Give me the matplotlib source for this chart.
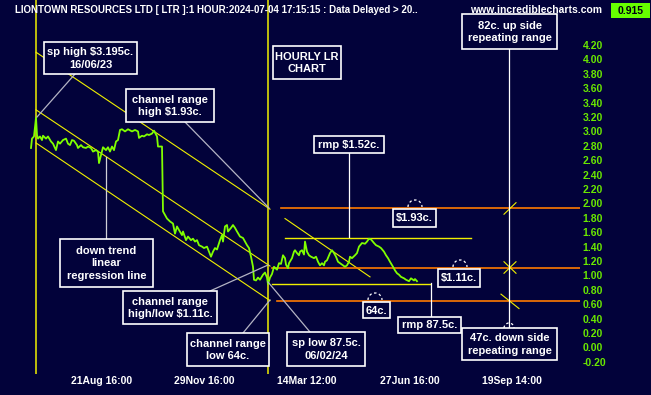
import matplotlib
matplotlib.use("Agg")
import numpy as np
import matplotlib.pyplot as plt
import matplotlib.transforms as mtransforms
from matplotlib.patches import Rectangle, Arc
from matplotlib.lines import Line2D

# ---- data (hourly bars, price in $) ----
price_bar = [31, 32, 34, 36, 37, 38, 40, 42, 43, 46, 48, 51, 53, 56, 58, 60, 63, 66, 68, 70,
             72, 74, 77, 78, 81, 83, 86, 88, 91, 93, 96, 98, 99, 101, 103, 106, 108, 110, 112, 114,
             116, 118, 120, 122, 125, 128, 132, 135, 138, 139, 142, 144, 147, 149, 152, 154, 157, 158, 162, 163,
             165, 167, 170, 173, 175, 177, 179, 182, 183, 186, 188, 191, 193, 195, 197, 199, 202, 204, 207, 209,
             211, 213, 215, 217, 220, 222, 223, 225, 227, 228, 231, 233, 235, 237, 240, 243, 245, 247, 249, 251,
             252, 253, 254, 256, 258, 260, 263, 265, 267, 268, 270, 272, 274, 277, 279, 281, 283, 285, 286, 288,
             289, 292, 294, 295, 297, 299, 300, 302, 304, 305, 307, 309, 311, 314, 316, 318, 320, 322, 324, 325,
             327, 330, 332, 334, 336, 338, 340, 343, 345, 347, 349, 350, 352, 355, 357, 359, 362, 365, 367, 369,
             371, 374, 376, 379, 381, 384, 386, 388, 390, 393, 395, 397, 399, 401, 404, 406, 409, 411, 414, 415,
             417]
price = [2.77, 2.90, 2.93, 3.19, 2.95, 2.90, 2.93, 2.88, 2.94, 2.90, 2.93, 2.86, 2.83, 2.74, 2.86, 2.83, 2.88, 2.90, 2.83, 2.81,
         2.88, 2.87, 2.81, 2.77, 2.81, 2.78, 2.77, 2.79, 2.77, 2.72, 2.74, 2.72, 2.56, 2.67, 2.78, 2.74, 2.78, 2.72, 2.79, 2.74,
         2.86, 2.88, 3.02, 3.03, 3.00, 3.03, 3.00, 3.02, 3.00, 2.91, 2.94, 2.93, 2.96, 2.95, 2.97, 3.01, 2.93, 2.79, 2.79, 1.89,
         1.84, 1.79, 1.75, 1.72, 1.58, 1.68, 1.63, 1.56, 1.61, 1.49, 1.54, 1.49, 1.51, 1.47, 1.49, 1.42, 1.40, 1.38, 1.40, 1.33,
         1.26, 1.33, 1.38, 1.36, 1.49, 1.56, 1.47, 1.68, 1.70, 1.61, 1.66, 1.70, 1.66, 1.61, 1.54, 1.52, 1.47, 1.42, 1.38, 1.26,
         1.19, 1.12, 0.94, 0.93, 0.97, 0.94, 1.01, 1.04, 0.97, 0.88, 0.97, 1.02, 1.12, 1.08, 1.17, 1.16, 1.28, 1.24, 1.15, 1.10,
         1.17, 1.24, 1.33, 1.35, 1.31, 1.28, 1.33, 1.35, 1.29, 1.47, 1.33, 1.28, 1.26, 1.24, 1.26, 1.19, 1.14, 1.17, 1.14, 1.19,
         1.21, 1.31, 1.35, 1.31, 1.26, 1.19, 1.17, 1.14, 1.12, 1.14, 1.19, 1.26, 1.24, 1.28, 1.31, 1.40, 1.45, 1.44, 1.47, 1.51,
         1.50, 1.45, 1.42, 1.40, 1.38, 1.33, 1.28, 1.24, 1.19, 1.12, 1.07, 1.03, 1.01, 0.98, 0.96, 0.94, 0.92, 0.96, 0.93, 0.95,
         0.92]

# linear regression channel
chan_bar = [36, 270]
chan_upper = [4.10, 1.92]
chan_mid = [3.30, 1.13]
chan_lower = [2.84, 0.65]
trend2_bar = [285, 370]
trend2 = [1.79, 0.98]

# orange range levels
levels = [1.93, 1.11, 0.64]
level_start = [281, 272, 277]
# rmp levels (yellow)
rmp_levels = [1.52, 0.875]
rmp_start = [285, 272]
rmp_end = [471, 430]

event_bars = [36, 268]      # sp high 16/06/23, sp low 06/02/24
repeat_bar = 510
last_price = "0.915"

xtick_bars = [102, 204, 307, 410, 512]
xtick_labels = ["21Aug 16:00", "29Nov 16:00", "14Mar 12:00", "27Jun 16:00", "19Sep 14:00"]
ytick_vals = [round(-0.2 + 0.2 * i, 2) for i in range(23)]

title = "LIONTOWN RESOURCES LTD [ LTR ]:1 HOUR:2024-07-04 17:15:15 : Data Delayed > 20.."

# ---- style ----
BG = "#02023a"
GREEN = "#80ff00"
TICK_GREEN = "#6ae800"
YELLOW = "#f0f000"
ORANGE = "#ff7a00"
LEADER = "#b4b4c4"

plt.rcParams["font.family"] = "Liberation Sans"
plt.rcParams["font.weight"] = "bold"

W, H = 651, 395
fig = plt.figure(figsize=(W / 100, H / 100), dpi=100, facecolor=BG)
ax = fig.add_axes([0, 21 / H, 580 / W, 374 / H])
ax.set_facecolor(BG)
ax.set_xlim(0, 580)
ax.set_ylim(-0.369, 4.825)
for s in ax.spines.values():
    s.set_visible(False)

# pixel transform (origin top-left) for annotation layout
px = mtransforms.Affine2D().scale(1 / W, -1 / H).translate(0, 1) + fig.transFigure

ax.yaxis.tick_right()
ax.set_yticks(ytick_vals)
ax.set_yticklabels([f"{v:.2f}" for v in ytick_vals])
ax.tick_params(axis="y", length=0, pad=2.0, labelcolor=TICK_GREEN, labelsize=7.5)
ax.set_xticks(xtick_bars)
ax.set_xticklabels(xtick_labels)
ax.tick_params(axis="x", length=0, pad=1.5, labelcolor="white", labelsize=7.5)

# event verticals
for b in event_bars:
    ax.axvline(b, color=YELLOW, lw=1.1, zorder=2, ymax=1.0)

# channel lines
for c in (chan_upper, chan_mid, chan_lower):
    ax.plot(chan_bar, c, color=YELLOW, lw=0.8, zorder=2)
ax.plot(trend2_bar, trend2, color=YELLOW, lw=0.8, zorder=2)

# levels
for lv, st in zip(levels, level_start):
    ax.plot([st, 580], [lv, lv], color=ORANGE, lw=1.2, zorder=2)
for lv, st, en in zip(rmp_levels, rmp_start, rmp_end):
    ax.plot([st, en], [lv, lv], color=YELLOW, lw=1.0, zorder=2)

# repeating range markers
ax.plot([repeat_bar - 6, repeat_bar + 6], [levels[0] - 0.08, levels[0] + 0.08], color=YELLOW, lw=0.8, zorder=3)
ax.plot([repeat_bar - 6, repeat_bar + 6], [levels[1] - 0.08, levels[1] + 0.08], color=YELLOW, lw=0.8, zorder=3)
ax.plot([repeat_bar - 6, repeat_bar + 6], [levels[1] + 0.08, levels[1] - 0.08], color=YELLOW, lw=0.8, zorder=3)
ax.plot([repeat_bar - 9, repeat_bar + 9], [levels[2] + 0.1, levels[2] - 0.1], color=YELLOW, lw=0.8, zorder=3)

# price
ax.plot(price_bar, price, color=GREEN, lw=1.3, zorder=3)


def leader(x0, y0, x1, y1, color=LEADER):
    ax.add_line(Line2D([x0, x1], [y0, y1], transform=px, color=color, lw=0.9, zorder=4, clip_on=False))


def box(x0, y0, x1, y1, text):
    ax.add_patch(Rectangle((x0, y0), x1 - x0, y1 - y0, transform=px, fc=BG, ec="white",
                           lw=1.2, zorder=5, clip_on=False))
    ax.text((x0 + x1) / 2, (y0 + y1) / 2 + 0.5, text, transform=px, ha="center", va="center",
            color="white", fontsize=8, linespacing=1.28, zorder=6, clip_on=False)


def dash_arc(cx, cy, r):
    ax.add_patch(Arc((cx, cy), 2 * r, 2 * r, theta1=180, theta2=360, transform=px,
                     color="white", lw=0.9, ls=(0, (2, 2)), zorder=4, clip_on=False))


leader(75, 74, 37, 117)
leader(185, 122, 269, 208)
leader(106, 239, 106, 157, color="#d0d0d8")
leader(210, 291, 268, 265)
leader(243, 333, 270, 300)
leader(310, 332, 268, 282)
leader(349, 153, 349, 237, color="white")
leader(431, 317, 431, 283, color="white")
leader(509, 49, 509, 328, color="white")

dash_arc(415, 207, 7)
dash_arc(460, 267, 7)
dash_arc(375, 300, 7)
dash_arc(509, 328, 5)

box(44, 42, 137, 74, "sp high $3.195c.\n16/06/23")
box(126, 89, 214, 122, "channel range\nhigh $1.93c.")
box(273, 46, 341, 79, "HOURLY LR\nCHART")
box(462, 14, 557, 49, "82c. up side\nrepeating range")
box(60, 239, 153, 287, "down trend\nlinear\nregression line")
box(123, 291, 217, 324, "channel range\nhigh/low $1.11c.")
box(187, 333, 269, 366, "channel range\nlow 64c.")
box(287, 332, 365, 366, "sp low 87.5c.\n06/02/24")
box(314, 136, 384, 153, "rmp $1.52c.")
box(393, 209, 436, 227, "$1.93c.")
box(438, 269, 480, 287, "$1.11c.")
box(363, 302, 390, 318, "64c.")
box(398, 317, 461, 333, "rmp 87.5c.")
box(462, 328, 557, 360, "47c. down side\nrepeating range")

# header
ax.text(15, 10, title, transform=px, ha="left", va="center", color="white", fontsize=7, zorder=7)
ax.text(470, 10, "www.incrediblecharts.com", transform=px, ha="left", va="center", color="white",
        fontsize=7.5, zorder=7)
ax.add_patch(Rectangle((611, 3), 39, 15, transform=px, fc="#66ff00", ec="none", zorder=7, clip_on=False))
ax.text(630.5, 10.5, last_price, transform=px, ha="center", va="center", color="#000010",
        fontsize=7.5, zorder=8)

fig.savefig("out.png", dpi=100, facecolor=BG)
